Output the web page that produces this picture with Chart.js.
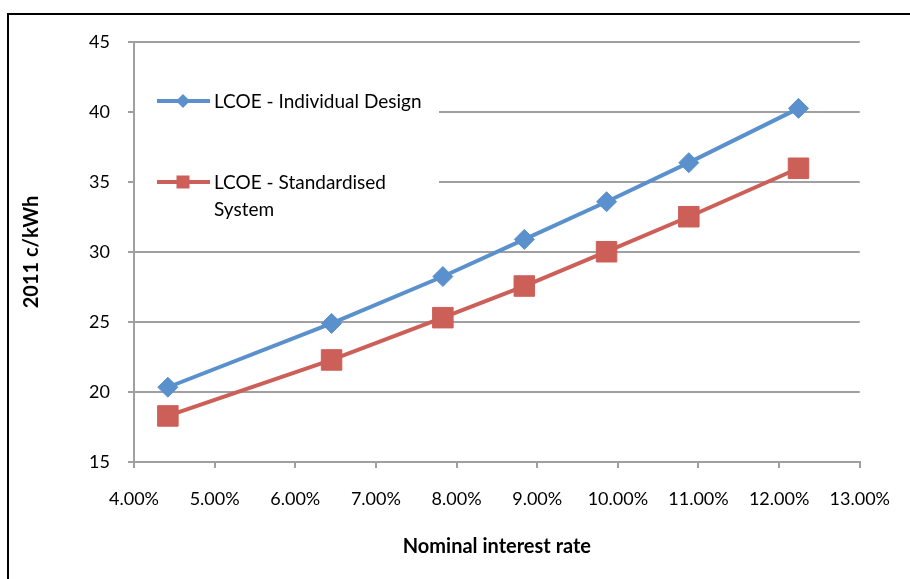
<!DOCTYPE html>
<html>
<head>
<meta charset="utf-8">
<title>LCOE vs nominal interest rate</title>
<script src="https://cdn.jsdelivr.net/npm/chart.js@4/dist/chart.umd.min.js"></script>
<style>
  html, body { margin: 0; padding: 0; background: #ffffff; }
  #wrap { width: 910px; height: 579px; position: relative; }
</style>
</head>
<body>
<div id="wrap"><canvas id="chart" width="910" height="579"></canvas></div>
<script>
// Nominal interest rate (%) for each scenario
const rates = [4.42, 6.45, 7.83, 8.84, 9.86, 10.88, 12.24];
// Levelised cost of energy, 2011 c/kWh
const individualDesign = [20.34, 24.90, 28.25, 30.90, 33.59, 36.38, 40.26];
const standardisedSystem = [18.29, 22.29, 25.31, 27.57, 30.02, 32.52, 35.98];

const seriesNames = ['LCOE - Individual Design', 'LCOE - Standardised System'];
const xTitle = 'Nominal interest rate';
const yTitle = '2011 c/kWh';

const BLUE = '#5A91CC';
const RED = '#CC5F58';
const GRID = '#A0A0A0';
const FONT = 'Lato, "Open Sans", sans-serif';

function toPoints(xs, ys) {
  return xs.map((x, i) => ({ x: x, y: ys[i] }));
}

// Outer frame of the chart object
const framePlugin = {
  id: 'frame',
  beforeDraw(chart) {
    const ctx = chart.ctx;
    ctx.save();
    ctx.fillStyle = '#ffffff';
    ctx.fillRect(0, 0, chart.width, chart.height);
    ctx.strokeStyle = '#000000';
    ctx.lineWidth = 2;
    ctx.beginPath();
    ctx.moveTo(8, chart.height + 5);
    ctx.lineTo(8, 14);
    ctx.lineTo(chart.width + 5, 14);
    ctx.stroke();
    ctx.restore();
  }
};

// Legend placed inside the plot area, on a white panel over the gridlines
const insideLegend = {
  id: 'insideLegend',
  beforeDatasetsDraw(chart) {
    const ctx = chart.ctx;
    const area = chart.chartArea;
    ctx.save();
    ctx.fillStyle = '#ffffff';
    ctx.fillRect(area.left + 1, area.top + 28, 438 - area.left, 160);

    const entries = [
      { ds: chart.data.datasets[0], y: 101 },
      { ds: chart.data.datasets[1], y: 182 }
    ];
    ctx.font = '19px ' + FONT;
    ctx.textBaseline = 'middle';
    ctx.textAlign = 'left';
    entries.forEach((e) => {
      const ds = e.ds;
      // line sample
      ctx.strokeStyle = ds.borderColor;
      ctx.lineWidth = 4;
      ctx.beginPath();
      ctx.moveTo(157, e.y);
      ctx.lineTo(210, e.y);
      ctx.stroke();
      // marker sample
      ctx.fillStyle = ds.pointBackgroundColor;
      ctx.beginPath();
      if (ds.pointStyle === 'rectRot') {
        const r = 7;
        ctx.moveTo(183 - r, e.y);
        ctx.lineTo(183, e.y - r);
        ctx.lineTo(183 + r, e.y);
        ctx.lineTo(183, e.y + r);
        ctx.closePath();
      } else {
        const h = 6.5;
        ctx.rect(183 - h, e.y - h, 2 * h, 2 * h);
      }
      ctx.fill();
      // label, wrapped to the panel width
      ctx.fillStyle = '#000000';
      const words = ds.label.split(' ');
      const lines = [];
      let cur = '';
      words.forEach((w) => {
        const test = cur ? cur + ' ' + w : w;
        if (cur && ctx.measureText(test).width > 222) {
          lines.push(cur);
          cur = w;
        } else {
          cur = test;
        }
      });
      lines.push(cur);
      lines.forEach((ln, i) => ctx.fillText(ln, 214, e.y + 1 + i * 27));
    });
    ctx.restore();
  }
};

function build() {
  new Chart(document.getElementById('chart'), {
    type: 'line',
    data: {
      datasets: [
        {
          label: seriesNames[0],
          data: toPoints(rates, individualDesign),
          borderColor: BLUE,
          backgroundColor: BLUE,
          pointBackgroundColor: BLUE,
          pointBorderColor: BLUE,
          pointStyle: 'rectRot',
          pointRadius: 10,
          pointHoverRadius: 10,
          pointBorderWidth: 1,
          borderWidth: 4,
          tension: 0,
          fill: false
        },
        {
          label: seriesNames[1],
          data: toPoints(rates, standardisedSystem),
          borderColor: RED,
          backgroundColor: RED,
          pointBackgroundColor: RED,
          pointBorderColor: RED,
          pointStyle: 'rect',
          pointRadius: 14.5,
          pointHoverRadius: 14.5,
          pointBorderWidth: 1,
          borderWidth: 4,
          tension: 0,
          fill: false
        }
      ]
    },
    options: {
      responsive: false,
      animation: false,
      devicePixelRatio: 1,
      events: [],
      layout: { padding: { left: 0, top: 42, right: 47, bottom: 0 } },
      plugins: {
        legend: { display: false },
        tooltip: { enabled: false }
      },
      scales: {
        x: {
          type: 'linear',
          min: 4,
          max: 13,
          afterFit(scale) { scale.height = 117; },
          ticks: {
            stepSize: 1,
            maxRotation: 0,
            padding: 20,
            color: '#000000',
            font: { family: FONT, size: 18 },
            callback: (v) => Number(v).toFixed(2) + '%'
          },
          grid: {
            drawOnChartArea: false,
            drawTicks: true,
            tickLength: 6,
            color: GRID,
            lineWidth: 2
          },
          border: { color: GRID, width: 2 },
          title: {
            display: true,
            text: xTitle,
            color: '#000000',
            font: { family: FONT, size: 20, weight: 'bold' },
            padding: { top: 0, bottom: 20 }
          }
        },
        y: {
          type: 'linear',
          min: 15,
          max: 45,
          afterFit(scale) { scale.width = 134; },
          ticks: {
            stepSize: 5,
            padding: 18,
            color: '#000000',
            font: { family: FONT, size: 18 }
          },
          grid: {
            drawTicks: true,
            tickLength: 6,
            color: GRID,
            lineWidth: 2
          },
          border: { color: GRID, width: 2 },
          title: {
            display: true,
            text: yTitle,
            color: '#000000',
            font: { family: FONT, size: 20, weight: 'bold' },
            padding: { top: 20, bottom: 0 }
          }
        }
      }
    },
    plugins: [framePlugin, insideLegend]
  });
}

if (document.fonts && document.fonts.load) {
  Promise.all([
    document.fonts.load('18px Lato'),
    document.fonts.load('bold 20px Lato')
  ]).then(build, build);
} else {
  build();
}
</script>
</body>
</html>
